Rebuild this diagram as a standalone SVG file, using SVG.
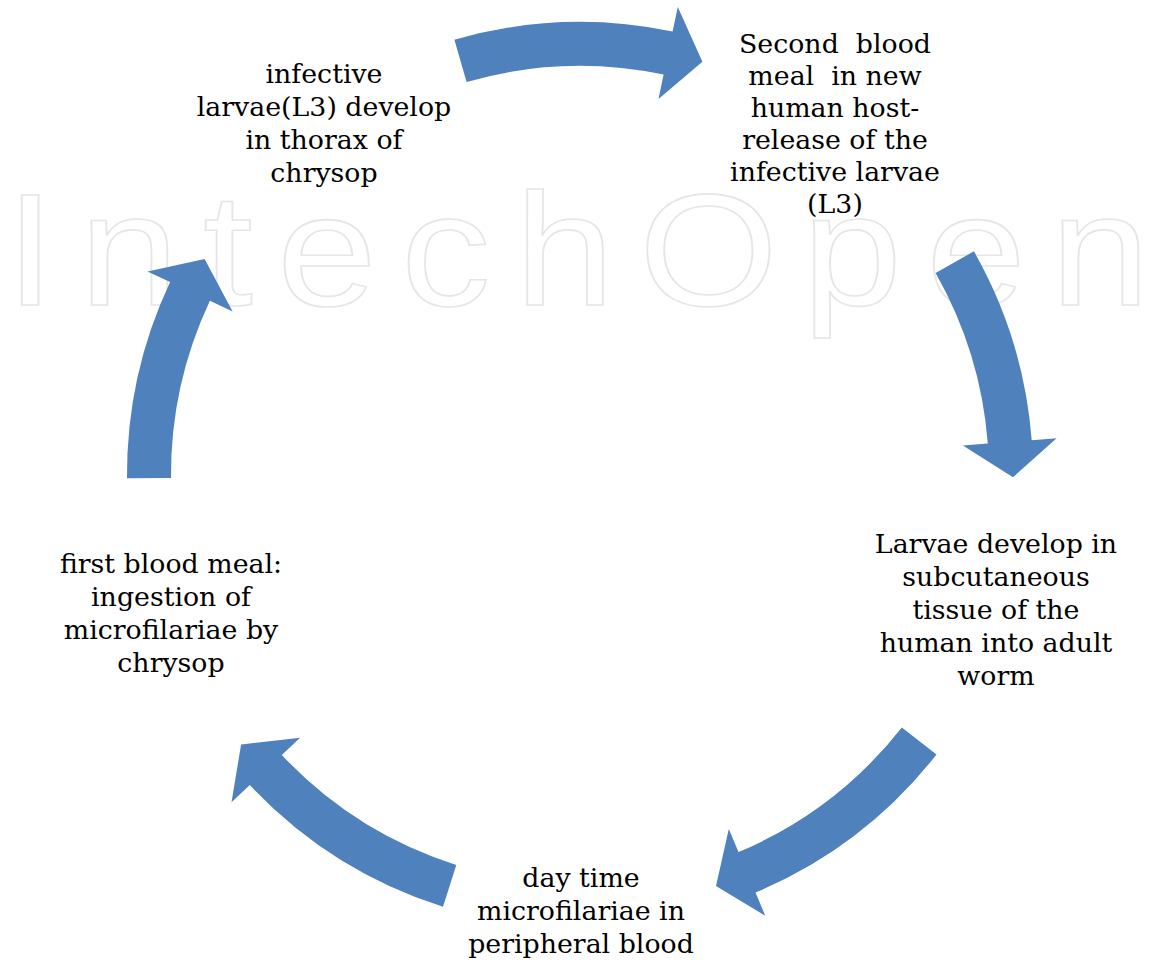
<svg xmlns="http://www.w3.org/2000/svg" width="1156" height="963" viewBox="0 0 1156 963">
<style>
.bg{fill:#ffffff}
.wm{font-family:"Liberation Sans","Arial",sans-serif;font-size:160px;fill:none;stroke:#e6e6e6;stroke-width:1.6}
.arrow{fill:#4f81bd;stroke:none}
.label{font-family:"DejaVu Serif","Liberation Serif",serif;font-size:26.8px;fill:#000000;text-anchor:middle;white-space:pre}
</style>
<rect class="bg" x="0" y="0" width="1156" height="963"/>
<text class="wm" transform="scale(1.12,1)" x="4.6" y="305" textLength="1022" lengthAdjust="spacing">IntechOpen</text>
<g id="connectors">
<path id="arrow-top" class="arrow" d="M454.4,39.8 A453,453 0 0 1 672.6,31.6 L677.8,7.1 L702.4,61.8 L658.5,99.1 L663.6,74.6 A409,409 0 0 0 466.6,82.0 Z"/>
<path id="arrow-right" class="arrow" d="M973.9,251.3 A453,453 0 0 1 1031.7,440.3 L1056.6,438.3 L1013,477.3 L962.9,445.5 L987.8,443.6 A409,409 0 0 0 935.6,273.0 Z"/>
<path id="arrow-bottom-right" class="arrow" d="M936.5,754.5 A453,453 0 0 1 755.5,892.6 L765.2,915.7 L716.0,886.1 L728.8,829.0 L738.5,852.1 A409,409 0 0 0 901.8,727.4 Z"/>
<path id="arrow-bottom-left" class="arrow" d="M443.0,906.8 A453,453 0 0 1 249.8,785.1 L231.5,802.2 L241.1,744.5 L300.1,737.8 L281.8,755.0 A409,409 0 0 0 456.3,864.9 Z"/>
<path id="arrow-left" class="arrow" d="M127.0,478.2 A453,453 0 0 1 170.1,282.1 L147.5,271.5 L204.6,259.1 L232.6,311.5 L209.9,300.8 A409,409 0 0 0 171.0,477.9 Z"/>
</g>
<g id="node-infective-larvae">
<text class="label" x="324" y="83">infective</text>
<text class="label" x="324" y="116">larvae(L3) develop</text>
<text class="label" x="324" y="149">in thorax of</text>
<text class="label" x="324" y="182">chrysop</text>
</g>
<g id="node-second-blood-meal">
<text class="label" x="835" y="53">Second  blood</text>
<text class="label" x="835" y="85">meal  in new</text>
<text class="label" x="835" y="117">human host-</text>
<text class="label" x="835" y="149">release of the</text>
<text class="label" x="835" y="181">infective larvae</text>
<text class="label" x="835" y="213">(L3)</text>
</g>
<g id="node-larvae-develop">
<text class="label" x="996" y="553">Larvae develop in</text>
<text class="label" x="996" y="586">subcutaneous</text>
<text class="label" x="996" y="619">tissue of the</text>
<text class="label" x="996" y="652">human into adult</text>
<text class="label" x="996" y="685">worm</text>
</g>
<g id="node-day-time">
<text class="label" x="581" y="887">day time</text>
<text class="label" x="581" y="920">microfilariae in</text>
<text class="label" x="581" y="953">peripheral blood</text>
</g>
<g id="node-first-blood-meal">
<text class="label" x="171" y="573">first blood meal:</text>
<text class="label" x="171" y="606">ingestion of</text>
<text class="label" x="171" y="639">microfilariae by</text>
<text class="label" x="171" y="672">chrysop</text>
</g>
</svg>
